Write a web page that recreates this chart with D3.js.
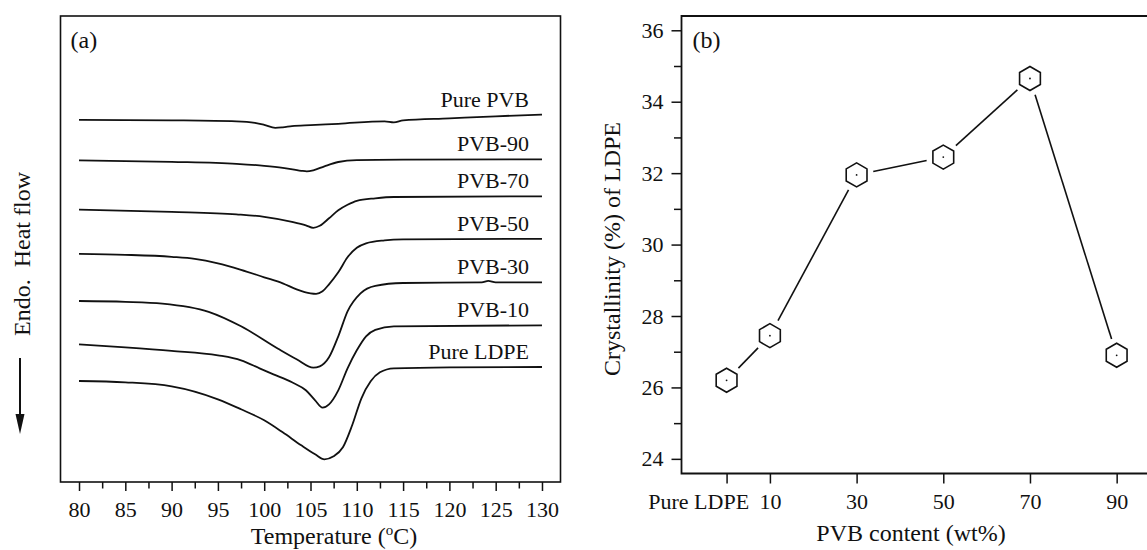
<!DOCTYPE html>
<html>
<head>
<meta charset="utf-8">
<script src="https://cdn.jsdelivr.net/npm/d3@7"></script>
<style>
    body { margin: 0; background: #fff; }
    svg text { font-family: "Liberation Serif", "Times New Roman", serif; fill: #111; white-space: pre; }
</style>
</head>
<body>
<div id="viz"></div>
<script>
// DSC curves, temperature (C) vs heat flow (a.u., offset per sample)
const purePVB = [[80,3.622],[90,3.617],[97,3.607],[99,3.592],[100,3.572],[101.2,3.542],[102,3.547],[103,3.559],[105,3.569],[108,3.582],[113,3.607],[114,3.597],[115,3.617],[120,3.637],[125,3.657],[130,3.674]];
const pvb90 = [[80,3.217],[90,3.202],[97,3.182],[100,3.162],[102,3.142],[104,3.112],[104.6,3.107],[105.3,3.117],[106.5,3.157],[108,3.200],[110,3.219],[115,3.224],[130,3.227]];
const pvb70 = [[80,2.724],[90,2.702],[97,2.677],[100,2.652],[103,2.602],[104.5,2.567],[105.3,2.542],[106,2.562],[107,2.637],[108,2.717],[109,2.772],[110,2.812],[112,2.837],[114,2.850],[130,2.857]];
const pvb50 = [[80,2.282],[85,2.272],[90,2.252],[92.5,2.232],[95,2.187],[97.5,2.122],[100,2.047],[102,1.987],[103.5,1.927],[105,1.887],[105.6,1.882],[106.3,1.907],[107,1.977],[108,2.097],[109,2.247],[110,2.342],[111,2.387],[113,2.417],[115,2.427],[130,2.432]];
const pvb30 = [[80,1.810],[85,1.802],[89,1.784],[94,1.702],[97.5,1.557],[101.5,1.332],[103.5,1.227],[105.3,1.144],[106,1.157],[107,1.247],[108,1.457],[109,1.707],[110.4,1.887],[112,1.962],[115,1.990],[123.5,1.997],[124.2,2.012],[125,1.997],[130,1.997]];
const pvb10 = [[80,1.377],[85,1.347],[90,1.312],[95,1.267],[97.5,1.217],[99.5,1.137],[101,1.077],[103,0.997],[104.5,0.917],[105.5,0.817],[106.3,0.744],[107,0.777],[108,0.917],[109,1.137],[110,1.317],[111,1.457],[112,1.522],[114,1.557],[130,1.567]];
const pureLDPE = [[80,1.010],[85,0.997],[90,0.957],[95,0.827],[97.5,0.727],[100,0.617],[102,0.497],[104,0.367],[105.5,0.277],[106.5,0.227],[107.5,0.257],[108.5,0.347],[109.5,0.567],[110.5,0.837],[111.5,1.007],[112.5,1.097],[114,1.137],[120,1.147],[130,1.150]];

const curveLabels = ["Pure PVB", "PVB-90", "PVB-70", "PVB-50", "PVB-30", "PVB-10", "Pure LDPE"];
const curveSeries = [purePVB, pvb90, pvb70, pvb50, pvb30, pvb10, pureLDPE];
const tempTicks = [80, 82.5, 85, 87.5, 90, 92.5, 95, 97.5, 100, 102.5, 105, 107.5, 110, 112.5, 115, 117.5, 120, 122.5, 125, 127.5, 130];

// Crystallinity of LDPE vs PVB content
const pvbContent = [0, 10, 30, 50, 70, 90];
const pvbLabels = ["Pure LDPE", "10", "30", "50", "70", "90"];
const crystallinity = [26.2, 27.45, 31.95, 32.45, 34.65, 26.9];
const crystTicks = [24, 25, 26, 27, 28, 29, 30, 31, 32, 33, 34, 35, 36];

const state = {
    dims: { width: 1147, height: 550 },
    a: { left: 60.5, right: 560.5, top: 16, bottom: 482 },
    b: { left: 681.5, right: 1160, top: 16, bottom: 473.5 }
};

const svg = d3.select("#viz")
    .append("svg")
    .attr("width", state.dims.width)
    .attr("height", state.dims.height);

// ---------- Panel (a) ----------
function drawPanelA() {
    const p = state.a;
    const x = d3.scaleLinear().domain([78, 132]).range([p.left, p.right]);
    const y = d3.scaleLinear().domain([0, 4.66]).range([p.bottom, p.top]);

    const g = svg.append("g").attr("class", "panel-a");

    const line = d3.line()
        .x(d => x(d[0]))
        .y(d => y(d[1]))
        .curve(d3.curveMonotoneX);

    g.selectAll(".dsc")
        .data(curveSeries)
        .join("path")
        .attr("class", "dsc")
        .attr("d", line)
        .style("fill", "none")
        .style("stroke", "#111")
        .style("stroke-width", 1.8);

    g.selectAll(".dsc-label")
        .data(curveSeries)
        .join("text")
        .attr("class", "dsc-label")
        .attr("x", x(128.6))
        .attr("y", d => y(d[d.length - 1][1]) - 8)
        .attr("text-anchor", "end")
        .style("font-size", "22px")
        .text((d, i) => curveLabels[i]);

    const axis = g.append("g")
        .attr("transform", `translate(0,${p.bottom})`)
        .call(d3.axisBottom(x)
            .tickValues(tempTicks)
            .tickSize(9)
            .tickPadding(10)
            .tickFormat(d => d % 5 === 0 ? d : ""));
    axis.select(".domain").remove();
    axis.selectAll(".tick line")
        .attr("y2", d => d % 5 === 0 ? 9 : 6.5)
        .style("stroke", "#111").style("stroke-width", 1.5);
    axis.selectAll(".tick text")
        .style("font-size", "22px")
        .style("font-family", "Liberation Serif, serif")
        .style("fill", "#111");

    g.append("rect")
        .attr("x", p.left).attr("y", p.top)
        .attr("width", p.right - p.left).attr("height", p.bottom - p.top)
        .style("fill", "none").style("stroke", "#111").style("stroke-width", 1.6);

    g.append("text")
        .attr("x", p.left + 10).attr("y", 48)
        .style("font-size", "24px")
        .text("(a)");

    const title = g.append("text")
        .attr("x", 334).attr("y", 544)
        .attr("text-anchor", "middle")
        .style("font-size", "24px");
    title.append("tspan").text("Temperature (");
    title.append("tspan").attr("dy", -9).style("font-size", "15px").text("o");
    title.append("tspan").attr("dy", 9).text("C)");

    g.append("text")
        .attr("transform", "translate(30,254) rotate(-90)")
        .attr("text-anchor", "middle")
        .style("font-size", "24px")
        .text("Endo.  Heat flow");

    // downward arrow
    g.append("line")
        .attr("x1", 20).attr("x2", 20).attr("y1", 358).attr("y2", 418)
        .style("stroke", "#111").style("stroke-width", 2);
    g.append("path")
        .attr("d", "M15.5,414 L24.5,414 L20,434 Z")
        .style("fill", "#111");
}

// ---------- Panel (b) ----------
function drawPanelB() {
    const p = state.b;
    const x = d3.scaleLinear().domain([-10.4, 100]).range([p.left, p.right]);
    const y = d3.scaleLinear().domain([23.59, 36.4]).range([p.bottom, p.top]);

    const g = svg.append("g").attr("class", "panel-b");

    // frame (right edge falls outside the page)
    g.append("path")
        .attr("d", `M${p.right},${p.top} L${p.left},${p.top} L${p.left},${p.bottom} L${p.right},${p.bottom}`)
        .style("fill", "none").style("stroke", "#111").style("stroke-width", 1.8);

    const yAxis = g.append("g")
        .attr("transform", `translate(${p.left},0)`)
        .call(d3.axisLeft(y)
            .tickValues(crystTicks)
            .tickSize(10)
            .tickPadding(8)
            .tickFormat(d => d % 2 === 0 ? d : ""));
    yAxis.select(".domain").remove();
    yAxis.selectAll(".tick line")
        .attr("x2", d => d % 2 === 0 ? -10 : -7.5)
        .style("stroke", "#111").style("stroke-width", 1.5);
    yAxis.selectAll(".tick text")
        .style("font-size", "22px")
        .style("font-family", "Liberation Serif, serif")
        .style("fill", "#111");

    const xAxis = g.append("g")
        .attr("transform", `translate(0,${p.bottom})`)
        .call(d3.axisBottom(x)
            .tickValues(pvbContent)
            .tickSize(10)
            .tickPadding(10)
            .tickFormat((d, i) => pvbLabels[i]));
    xAxis.select(".domain").remove();
    xAxis.selectAll(".tick line").style("stroke", "#111").style("stroke-width", 1.5);
    xAxis.selectAll(".tick text")
        .style("font-size", "22px")
        .style("font-family", "Liberation Serif, serif")
        .style("fill", "#111")
        .filter(d => d === 0)
        .attr("text-anchor", "end")
        .attr("x", 22);

    const pts = pvbContent.map((c, i) => [x(c), y(crystallinity[i])]);

    // connecting segments, stopped short of the markers
    const gap = 17;
    const segs = d3.pairs(pts).map(([a, b]) => {
        const dx = b[0] - a[0], dy = b[1] - a[1];
        const len = Math.hypot(dx, dy);
        const ux = dx / len, uy = dy / len;
        return [a[0] + ux * gap, a[1] + uy * gap, b[0] - ux * gap, b[1] - uy * gap];
    });
    g.selectAll(".seg")
        .data(segs)
        .join("line")
        .attr("class", "seg")
        .attr("x1", d => d[0]).attr("y1", d => d[1])
        .attr("x2", d => d[2]).attr("y2", d => d[3])
        .style("stroke", "#111").style("stroke-width", 1.6);

    const R = 12;
    const hex = d3.range(6).map(k => {
        const a = -Math.PI / 2 + k * Math.PI / 3;
        return [R * Math.cos(a), R * Math.sin(a)];
    });
    const markers = g.selectAll(".marker")
        .data(pts)
        .join("g")
        .attr("class", "marker")
        .attr("transform", d => `translate(${d[0]},${d[1]})`);
    markers.append("path")
        .attr("d", "M" + hex.map(h => h.join(",")).join("L") + "Z")
        .style("fill", "none").style("stroke", "#111").style("stroke-width", 1.6);
    markers.append("circle")
        .attr("r", 0.9)
        .style("fill", "#111");

    g.append("text")
        .attr("x", p.left + 11).attr("y", 48)
        .style("font-size", "24px")
        .text("(b)");

    g.append("text")
        .attr("x", 911).attr("y", 541)
        .attr("text-anchor", "middle")
        .style("font-size", "24px")
        .text("PVB content (wt%)");

    g.append("text")
        .attr("transform", "translate(620,249) rotate(-90)")
        .attr("text-anchor", "middle")
        .style("font-size", "24px")
        .text("Crystallinity (%) of LDPE");
}

drawPanelA();
drawPanelB();
</script>
</body>
</html>
